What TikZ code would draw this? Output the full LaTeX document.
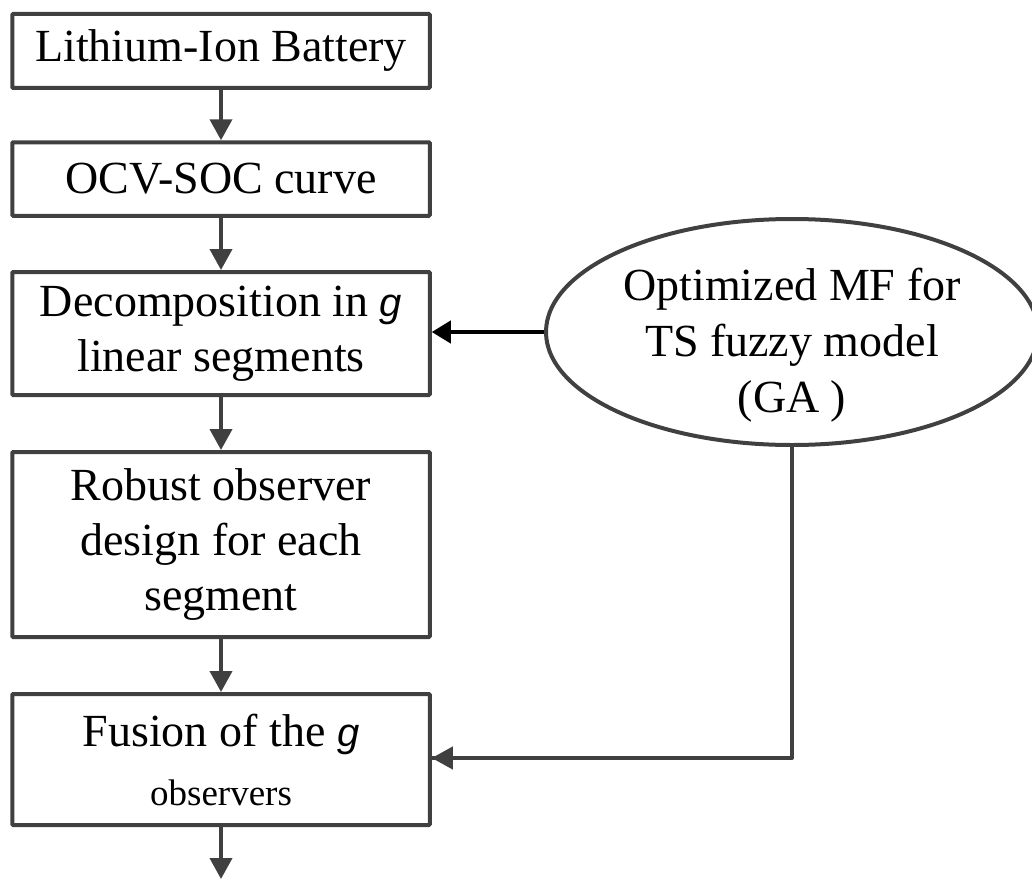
\documentclass[tikz,border=0pt]{standalone}
\usepackage{fontspec}
\setmainfont{Liberation Serif}
\newfontfamily\gfont{Liberation Sans}
\usetikzlibrary{arrows.meta,shapes.geometric}
\definecolor{lc}{HTML}{404040}
\newcommand{\gv}{{\gfont\itshape\fontsize{40}{55}\selectfont g}}
\begin{document}
\begin{tikzpicture}[x=1pt,y=-1pt,
  flowbox/.style={draw=lc,line width=4pt,rounded corners=1pt,minimum width=417.5pt,inner sep=0pt,
    align=center,font=\fontsize{46}{55}\selectfont},
  garrow/.style={draw=lc,line width=4pt,-{Triangle[length=21pt,width=22pt]}},
  barrow/.style={draw=black,line width=4pt,-{Triangle[length=19pt,width=22pt]}},
  gline/.style={draw=lc,line width=4pt}]
\useasboundingbox (0,0) rectangle (1032,880);
\clip (0,0) rectangle (1032,880);
\node[flowbox,minimum height=74pt] (b1) at (221,51) {Lithium-Ion Battery};
\node[flowbox,minimum height=73.5pt] (b2) at (221,179) {OCV-SOC curve};
\node[flowbox,minimum height=123pt] (b3) at (221,333.5) {Decomposition in \gv\\linear segments};
\node[flowbox,minimum height=185pt] (b4) at (221,544.5) {Robust observer\\design for each\\segment};
\node[flowbox,minimum height=131pt] (b5) at (221,759.5) {Fusion of the \gv\\[4pt]{\fontsize{37}{44}\selectfont observers}};
\node[ellipse,draw=lc,line width=4pt,minimum width=492pt,minimum height=226pt,inner sep=0pt] (el) at (792,332) {};
\node[align=center,font=\fontsize{46}{56}\selectfont] (eltext) at (792,345) {Optimized MF for\\TS fuzzy model\\(GA )};
\coordinate (out) at (221,879);
\coordinate (corner) at (792,758);
\draw[garrow] (b1.south) -- (b2.north);
\draw[garrow] (b2.south) -- (b3.north);
\draw[garrow] (b3.south) -- (b4.north);
\draw[garrow] (b4.south) -- (b5.north);
\draw[garrow] (b5.south) -- (out);
\draw[barrow] (el.west) -- (el.west -| b3.east);
\draw[gline,line join=round] (el.south) -- (corner) -- (corner -| b5.east);
\draw[garrow] (corner) -- (corner -| b5.east);
\end{tikzpicture}
\end{document}
